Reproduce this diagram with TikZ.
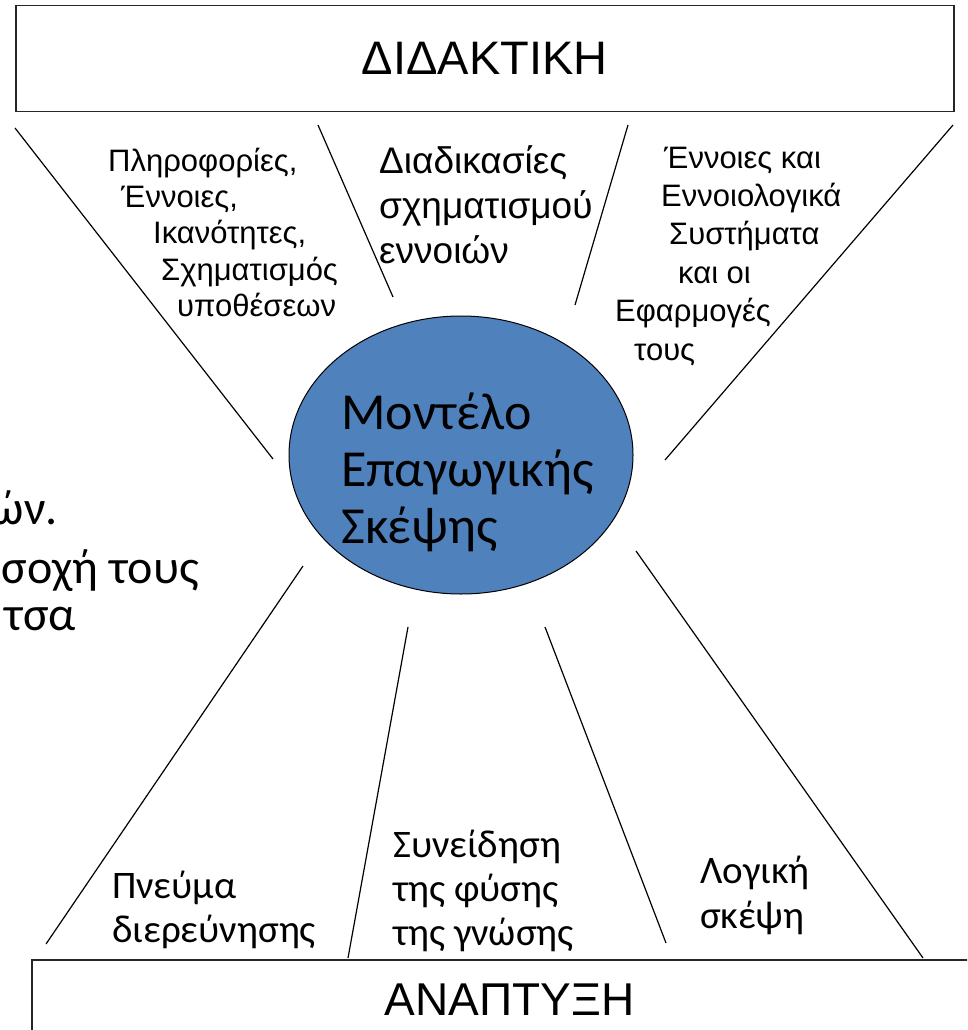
\documentclass[tikz,border=0pt]{standalone}
\usepackage{fontspec}
\setmainfont{Liberation Sans}
\newfontfamily\carfont{Carlito}
\usetikzlibrary{shapes.geometric}
\definecolor{ellblue}{HTML}{4F81BD}
\begin{document}
\begin{tikzpicture}[x=1pt,y=-1pt,
  box/.style={draw=black!85, line width=1.5pt, inner sep=0pt},
  ray/.style={draw=black, line width=1.2pt},
  labA/.style={anchor=base west, inner sep=0pt, font=\fontsize{31}{36}\selectfont},
  labB/.style={anchor=base west, inner sep=0pt, font=\fontsize{37}{44}\selectfont},
  labC/.style={anchor=base west, inner sep=0pt, font=\carfont\fontsize{39}{44}\selectfont},
  modtxt/.style={anchor=base west, inner sep=0pt, font=\carfont\fontsize{52}{58}\selectfont},
  frag/.style={anchor=base east, inner sep=0pt, font=\carfont\fontsize{48}{58}\selectfont},
  title/.style={font=\fontsize{47}{56}\selectfont}
]
\clip (0,0) rectangle (967,1030);
\fill[white] (0,0) rectangle (967,1030);

% boxes
\node[box, title, anchor=north west, minimum width=938pt, minimum height=106pt] (didaktiki) at (15,5) {ΔΙΔΑΚΤΙΚΗ};
\node[box, title, font=\fontsize{46}{56}\selectfont, anchor=north west, minimum width=956pt, minimum height=80pt] (anaptyxi) at (31,959) {ΑΝΑΠΤΥΞΗ};

% central ellipse
\node[ellipse, draw=black, line width=1pt, fill=ellblue, minimum width=344pt, minimum height=278pt, inner sep=0pt] (model) at (461,455) {};
\node[modtxt] (m1) at (341,429) {Μοντέλο};
\node[modtxt] (m2) at (341,486) {Επαγωγικής};
\node[modtxt] (m3) at (341,543) {Σκέψης};

% rays
\coordinate (r1a) at (15,128);  \coordinate (r1b) at (273,459);
\coordinate (r2a) at (318,125); \coordinate (r2b) at (393,297);
\coordinate (r3a) at (628,125); \coordinate (r3b) at (575,305);
\coordinate (r4a) at (953,125); \coordinate (r4b) at (665,460);
\coordinate (r5a) at (303,566); \coordinate (r5b) at (46,944);
\coordinate (r6a) at (408,627); \coordinate (r6b) at (348,958);
\coordinate (r7a) at (545,627); \coordinate (r7b) at (666,943);
\coordinate (r8a) at (636,551); \coordinate (r8b) at (923,958);
\draw[ray] (r1a) -- (r1b);
\draw[ray] (r2a) -- (r2b);
\draw[ray] (r3a) -- (r3b);
\draw[ray] (r4a) -- (r4b);
\draw[ray] (r5a) -- (r5b);
\draw[ray] (r6a) -- (r6b);
\draw[ray] (r7a) -- (r7b);
\draw[ray] (r8a) -- (r8b);

% top-left label
\node[labA] (a1) at (108,171) {Πληροφορίες,};
\node[labA] (a2) at (121,207) {Έννοιες,};
\node[labA] (a3) at (153,243) {Ικανότητες,};
\node[labA] (a4) at (161,280) {Σχηματισμός};
\node[labA] (a5) at (177,316) {υποθέσεων};

% top-middle label
\node[labB] (b1) at (379,173) {Διαδικασίες};
\node[labB] (b2) at (379,218) {σχηματισμού};
\node[labB] (b3) at (379,263) {εννοιών};

% top-right label
\node[labA] (c1) at (664,168) {Έννοιες και};
\node[labA] (c2) at (661,206) {Εννοιολογικά};
\node[labA] (c3) at (669,244) {Συστήματα};
\node[labA] (c4) at (678,283) {και οι};
\node[labA] (c5) at (615,321) {Εφαρμογές};
\node[labA] (c6) at (634,360) {τους};

% bottom labels
\node[labC] (d1) at (112,898) {Πνεύμα};
\node[labC] (d2) at (112,942) {διερεύνησης};
\node[labC] (e1) at (393,857) {Συνείδηση};
\node[labC] (e2) at (393,901) {της φύσης};
\node[labC] (e3) at (393,945) {της γνώσης};
\node[labC] (f1) at (700,883) {Λογική};
\node[labC] (f2) at (700,928) {σκέψη};

% left fragments (cut off at the left edge, as in the reference)
\node[frag] (g1) at (58,524) {ών.};
\node[frag] (g2) at (199,583) {σοχή τους};
\node[frag] (g3) at (76,630) {τσα};
\end{tikzpicture}
\end{document}
